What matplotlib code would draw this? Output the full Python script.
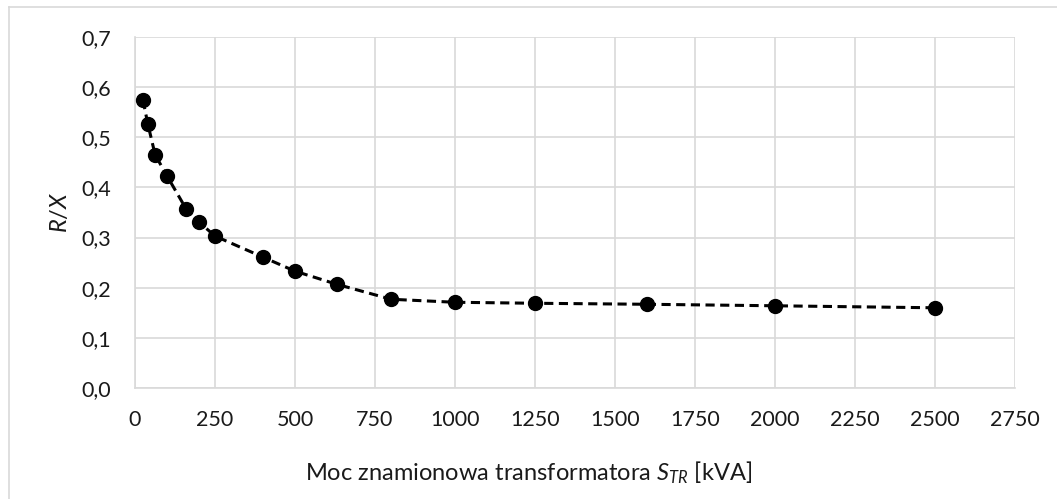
import matplotlib
matplotlib.use("Agg")
import matplotlib.pyplot as plt
from matplotlib.lines import Line2D
from matplotlib.ticker import FuncFormatter

# rated power of transformer [kVA] and R/X ratio
moc = [25, 40, 63, 100, 160, 200, 250, 400, 500, 630, 800, 1000, 1250, 1600, 2000, 2500]
rx = [0.574, 0.527, 0.465, 0.423, 0.357, 0.331, 0.303, 0.261, 0.233, 0.207,
      0.177, 0.171, 0.169, 0.167, 0.164, 0.160]

x_ticks = [0, 250, 500, 750, 1000, 1250, 1500, 1750, 2000, 2250, 2500, 2750]
y_ticks = [0.0, 0.1, 0.2, 0.3, 0.4, 0.5, 0.6, 0.7]

plt.rcParams['font.family'] = ['Lato', 'DejaVu Sans']
plt.rcParams['mathtext.fontset'] = 'custom'
plt.rcParams['mathtext.rm'] = 'Lato'
plt.rcParams['mathtext.it'] = 'Lato:italic'

fig = plt.figure(figsize=(10.57, 4.99), dpi=100)
# chart-area border (only top and left are inside the picture)
fig.lines.append(Line2D([0.0085, 1.0], [0.986, 0.986], transform=fig.transFigure,
                        color='#d9d9d9', linewidth=1.2))
fig.lines.append(Line2D([0.0085, 0.0085], [0.0, 0.986], transform=fig.transFigure,
                        color='#d9d9d9', linewidth=1.2))

ax = fig.add_axes([0.1277, 0.2224, 0.8326, 0.7035])
ax.plot(moc, rx, color='black', linewidth=2.2, dashes=(3, 1.8),
        marker='o', markersize=10, markerfacecolor='black', markeredgecolor='black',
        zorder=3)

ax.set_xlim(0, 2750)
ax.set_ylim(0, 0.7)
ax.set_xticks(x_ticks)
ax.set_yticks(y_ticks)
ax.yaxis.set_major_formatter(FuncFormatter(lambda v, p: f"{v:.1f}".replace('.', ',')))
ax.grid(True, color='#d9d9d9', linewidth=1.2)
ax.set_axisbelow(True)
for s in ['top', 'right']:
    ax.spines[s].set_visible(False)
for s in ['left', 'bottom']:
    ax.spines[s].set_color('#d9d9d9')
    ax.spines[s].set_linewidth(1.2)
ax.tick_params(length=0, labelsize=15.5, colors='#1a1a1a')
ax.tick_params(axis='y', pad=17)
ax.tick_params(axis='x', pad=16)

ax.set_ylabel('$R/X$', fontsize=17, color='#1a1a1a', labelpad=8)
ax.set_xlabel('Moc znamionowa transformatora $S_{TR}$ [kVA]', fontsize=17,
              color='#1a1a1a', labelpad=21)
ax.xaxis.label.set_x(0.447)

fig.savefig('out.png', dpi=100)
